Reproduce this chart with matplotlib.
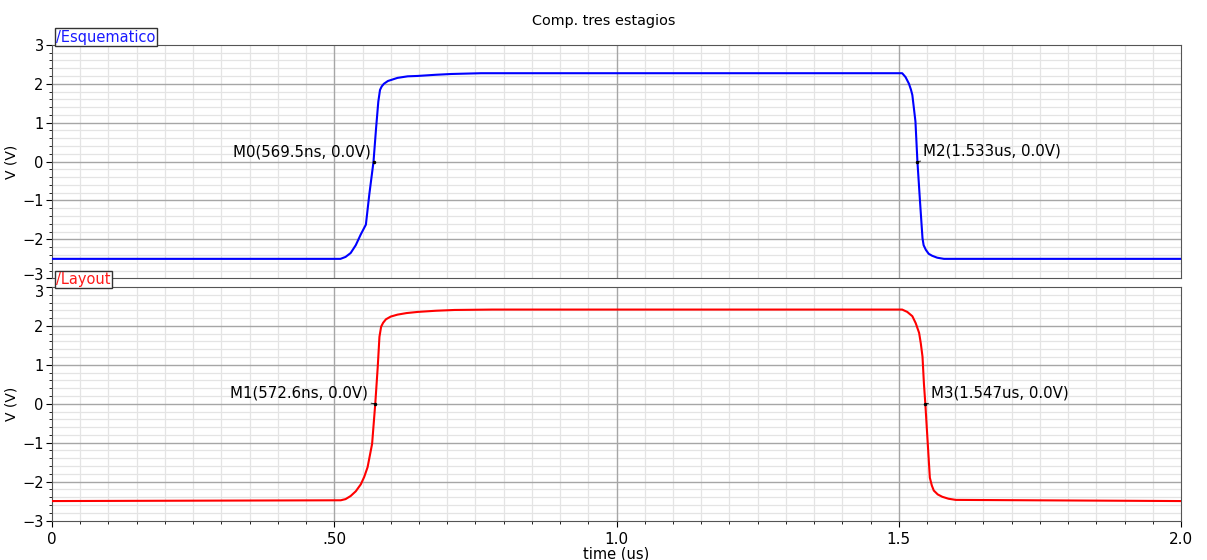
import matplotlib
matplotlib.use("Agg")
import matplotlib.pyplot as plt
import matplotlib.transforms as mtransforms
from matplotlib.ticker import MultipleLocator

plt.rcParams['font.family'] = ['DejaVu Sans']

# Esquematico (schematic) transient, time in us, voltage in V
t_esq = [0.0, 0.511, 0.52, 0.529, 0.538, 0.547, 0.556, 0.562, 0.5695, 0.574,
         0.578, 0.581, 0.584, 0.588, 0.595, 0.612, 0.63, 0.648, 0.68, 0.707,
         0.76, 1.506, 1.512, 1.518, 1.5215, 1.524, 1.5295, 1.533, 1.5376, 1.542,
         1.544, 1.548, 1.553, 1.559, 1.568, 1.58, 2.0]
v_esq = [-2.5, -2.5, -2.45, -2.35, -2.15, -1.87, -1.62, -0.85, 0.0, 0.85,
         1.54, 1.84, 1.93, 2.0, 2.07, 2.15, 2.19, 2.2, 2.23, 2.25,
         2.27, 2.27, 2.17, 2.0, 1.85, 1.71, 1.03, 0.0, -1.03, -1.97,
         -2.15, -2.27, -2.37, -2.42, -2.47, -2.5, -2.5]

# Layout (extracted) transient
t_lay = [0.0, 0.5115, 0.52, 0.529, 0.538, 0.547, 0.553, 0.559, 0.567, 0.5726,
         0.577, 0.580, 0.583, 0.5865, 0.5915, 0.60, 0.612, 0.628, 0.648, 0.68,
         0.713, 0.78, 1.506, 1.515, 1.524, 1.530, 1.536, 1.539, 1.542, 1.5445,
         1.547, 1.551, 1.555, 1.5585, 1.562, 1.569, 1.577, 1.588, 1.601, 2.0]
v_lay = [-2.5, -2.48, -2.45, -2.37, -2.25, -2.07, -1.88, -1.63, -1.03, 0.0,
         0.95, 1.72, 1.98, 2.08, 2.17, 2.24, 2.29, 2.33, 2.36, 2.39,
         2.41, 2.42, 2.42, 2.36, 2.25, 2.07, 1.82, 1.55, 1.21, 0.52,
         0.0, -0.95, -1.9, -2.1, -2.23, -2.33, -2.39, -2.44, -2.47, -2.5]

# markers: (name, time us, voltage, label)
markers_esq = [("M0", 0.5695, 0.0, "M0(569.5ns, 0.0V)"),
               ("M2", 1.533, 0.0, "M2(1.533us, 0.0V)")]
markers_lay = [("M1", 0.5726, 0.0, "M1(572.6ns, 0.0V)"),
               ("M3", 1.547, 0.0, "M3(1.547us, 0.0V)")]

x_ticks = [0, 0.5, 1.0, 1.5, 2.0]
x_ticklabels = ['0', '.50', '1.0', '1.5', '2.0']
y_ticks = [-3, -2, -1, 0, 1, 2, 3]
y_ticklabels = ['\u22123', '\u22122', '\u22121', '0', '1', '2', '3']

fig = plt.figure(figsize=(12.07, 5.6), dpi=100)
ax1 = fig.add_axes([0.0431, 0.5030, 0.9354, 0.4170])
ax2 = fig.add_axes([0.0431, 0.0705, 0.9354, 0.4170])


def style(ax, name, color):
    ax.set_xlim(0, 2.0)
    ax.set_ylim(-3, 3)
    ax.xaxis.set_minor_locator(MultipleLocator(0.05))
    ax.yaxis.set_minor_locator(MultipleLocator(0.2))
    ax.set_xticks(x_ticks)
    ax.set_yticks(y_ticks)
    ax.set_yticklabels(y_ticklabels)
    # light minor grid from the axis, darker major lines drawn on top of it
    ax.grid(which='minor', color='#e4e4e4', lw=0.9)
    ax.set_axisbelow(True)
    for xt in x_ticks[1:-1]:
        ax.axvline(xt, color='#a6a6a6', lw=1.0, zorder=1)
    for yt in y_ticks[1:-1]:
        ax.axhline(yt, color='#a6a6a6', lw=1.0, zorder=1)
    for s in ax.spines.values():
        s.set_color('#555555')
    ax.tick_params(which='major', length=4, width=0.8, labelsize=10.5, pad=2)
    ax.tick_params(which='minor', length=2, width=0.6)
    ax.set_ylabel("V (V)", fontsize=10)
    ax.yaxis.set_label_coords(-0.030, 0.5)
    ax.text(0.0035, 1.0, "/" + name, transform=ax.transAxes, color=color,
            fontsize=10.5, ha='left', va='bottom', zorder=10, clip_on=False,
            bbox=dict(boxstyle='square,pad=0.1', fc='white', ec='#333333', lw=1))


def add_markers(ax, markers):
    for m, t, v, label in markers:
        ax.plot([t], [v], marker='.', ms=3, color='black', zorder=5)
        if m in ("M0", "M1"):
            off, ha = ((-3, 2) if m == "M0" else (-7, 3)), 'right'
        else:
            off, ha = (6, 3), 'left'
        ax.annotate(label, xy=(t, v), xytext=off, textcoords='offset pixels',
                    ha=ha, va='bottom', fontsize=10.8,
                    arrowprops=dict(arrowstyle='-', lw=0.6, color='black',
                                    shrinkA=0, shrinkB=0))


style(ax1, "Esquematico", '#1a1aff')
ax1.plot(t_esq, v_esq, color='#0000ff', lw=1.5, zorder=3)
add_markers(ax1, markers_esq)
ax1.tick_params(axis='x', which='both', length=0, labelbottom=False)

style(ax2, "Layout", '#ff1a1a')
ax2.plot(t_lay, v_lay, color='#ff0000', lw=1.5, zorder=3)
add_markers(ax2, markers_lay)
ax2.set_xticklabels(x_ticklabels)
ax2.tick_params(axis='x', labelsize=11, pad=4)
ax2.set_xlabel("time (us)", fontsize=10.5, labelpad=0)

# nudge the -3 / 3 labels at the panel junction a little apart
lab_lo = ax1.get_yticklabels()[0]
lab_lo.set_transform(lab_lo.get_transform() +
                     mtransforms.ScaledTranslation(0, 0.04, fig.dpi_scale_trans))
lab_hi = ax2.get_yticklabels()[-1]
lab_hi.set_transform(lab_hi.get_transform() +
                     mtransforms.ScaledTranslation(0, -0.04, fig.dpi_scale_trans))

fig.suptitle("Comp. tres estagios", fontsize=10.4, y=0.975)

fig.savefig("out.png", dpi=100)
